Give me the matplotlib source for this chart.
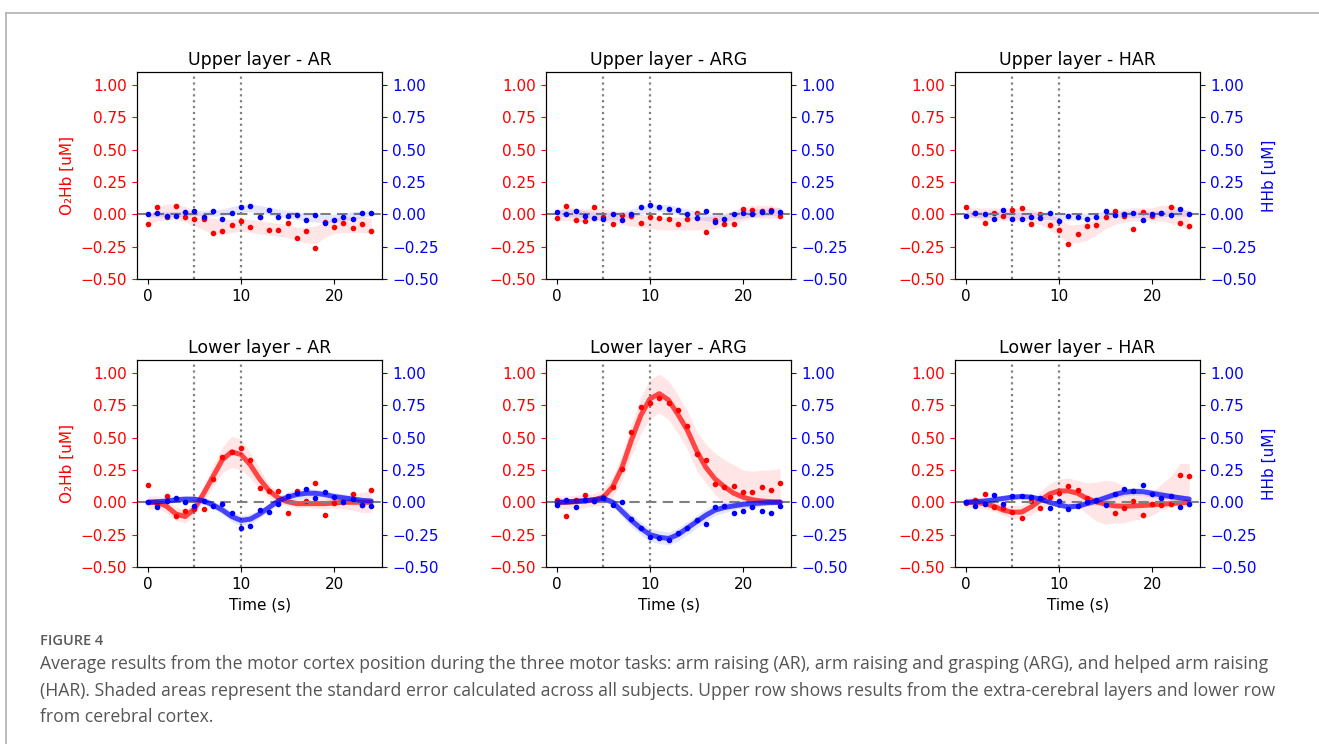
import matplotlib
matplotlib.use("Agg")
import matplotlib.pyplot as plt
from matplotlib.lines import Line2D
import numpy as np

t = list(range(25))

# ---------------- Upper layer (extra-cerebral) ----------------
up_ar_o2_dots = [-0.077, 0.057, -0.02, 0.064, -0.02, -0.039, -0.034, -0.142, -0.131, -0.08, -0.049, -0.10, -0.02,
                 -0.119, -0.124, -0.07, -0.186, -0.131, -0.26, -0.057, -0.095, -0.067, -0.103, -0.072, -0.126]
up_ar_o2_mid = [-0.05, 0.0, 0.02, 0.02, 0.0, -0.03, -0.06, -0.09, -0.1, -0.09, -0.08, -0.09, -0.1, -0.11, -0.12,
                -0.13, -0.15, -0.16, -0.16, -0.12, -0.09, -0.08, -0.08, -0.08, -0.09]
up_ar_o2_se = [0.03, 0.05, 0.06, 0.06, 0.06, 0.06, 0.06, 0.06, 0.06, 0.05, 0.05, 0.05, 0.05, 0.05, 0.05, 0.05,
               0.05, 0.06, 0.07, 0.06, 0.06, 0.06, 0.06, 0.06, 0.06]
up_ar_hhb_dots = [0, 0.013, -0.01, -0.015, 0.015, 0.023, -0.018, 0.028, -0.036, 0.008, 0.057, 0.067, -0.018,
                  0.031, -0.018, -0.01, -0.008, -0.046, -0.008, -0.067, -0.041, -0.018, -0.036, 0.008, 0.013]
up_ar_hhb_mid = [0, 0, 0, 0, 0.005, 0.01, 0.01, 0.01, 0.015, 0.03, 0.045, 0.05, 0.04, 0.025, 0.01, 0, -0.01,
                 -0.02, -0.03, -0.035, -0.03, -0.02, -0.01, 0, 0.01]
up_ar_hhb_se = [0.015, 0.02, 0.02, 0.02, 0.02, 0.02, 0.02, 0.025, 0.025, 0.03, 0.03, 0.03, 0.03, 0.03, 0.03,
                0.03, 0.03, 0.03, 0.03, 0.03, 0.03, 0.03, 0.03, 0.025, 0.02]

up_arg_o2_dots = [-0.031, 0.067, -0.041, -0.052, 0.057, -0.018, -0.077, -0.008, -0.015, -0.07, -0.018, -0.028,
                  -0.039, -0.075, -0.036, 0.008, -0.134, -0.046, -0.072, -0.075, 0.039, 0.031, 0.028, 0.034, -0.01]
up_arg_o2_mid = [-0.01, 0.0, 0.0, -0.01, 0.0, -0.01, -0.02, -0.03, -0.04, -0.05, -0.06, -0.07, -0.07, -0.07,
                 -0.07, -0.07, -0.07, -0.06, -0.04, -0.02, 0.0, 0.02, 0.02, 0.02, 0.01]
up_arg_o2_se = [0.04, 0.05, 0.05, 0.05, 0.05, 0.05, 0.05, 0.05, 0.05, 0.05, 0.05, 0.05, 0.05, 0.05, 0.05, 0.05,
                0.05, 0.05, 0.05, 0.05, 0.05, 0.05, 0.05, 0.05, 0.04]
up_arg_hhb_dots = [0.018, 0, 0.028, -0.013, -0.031, -0.039, 0, -0.046, 0.005, 0.054, 0.07, 0.059, 0.041, 0.036,
                   0, -0.031, 0.028, -0.062, -0.039, 0.005, 0.008, 0, 0.021, 0.026, 0.015]
up_arg_hhb_mid = [0.01, 0.01, 0.01, 0, -0.01, -0.015, -0.015, -0.01, 0.01, 0.03, 0.05, 0.05, 0.045, 0.03, 0.01,
                  -0.01, -0.02, -0.03, -0.03, -0.01, 0, 0.01, 0.015, 0.02, 0.02]
up_arg_hhb_se = [0.03] * 25

up_har_o2_dots = [0.057, 0.01, -0.067, 0.008, -0.01, 0.031, 0.046, -0.072, 0.005, -0.08, -0.124, -0.227, -0.155,
                  -0.09, -0.085, -0.02, 0.023, -0.013, -0.111, 0.015, -0.01, 0.013, 0.057, -0.07, -0.09]
up_har_o2_mid = [0.02, 0.01, 0.0, 0.0, 0.0, 0.0, 0.0, -0.01, -0.03, -0.06, -0.1, -0.15, -0.15, -0.13, -0.1, -0.06,
                 -0.03, -0.01, 0.0, 0.0, 0.0, 0.01, 0.0, -0.02, -0.05]
up_har_o2_se = [0.03, 0.04, 0.05, 0.05, 0.05, 0.05, 0.05, 0.05, 0.05, 0.06, 0.07, 0.07, 0.07, 0.07, 0.06, 0.05,
                0.05, 0.05, 0.05, 0.05, 0.05, 0.06, 0.07, 0.07, 0.07]
up_har_hhb_dots = [-0.015, 0.013, 0.003, -0.034, 0.034, -0.036, -0.034, -0.018, -0.026, 0.013, -0.052, -0.01,
                   -0.023, -0.034, -0.02, 0.028, -0.008, 0, 0.01, -0.046, 0, 0.008, -0.005, 0.041, 0.003]
up_har_hhb_mid = [0, 0, 0, 0, 0, -0.005, -0.01, -0.01, -0.01, -0.015, -0.02, -0.02, -0.02, -0.015, -0.01, 0, 0, 0,
                  0, 0, 0, 0.005, 0.01, 0.01, 0.01]
up_har_hhb_se = [0.025] * 25

# ---------------- Lower layer (cerebral cortex) ----------------
lo_ar_o2_dots = [0.131, -0.01, 0.046, -0.108, -0.07, -0.05, -0.054, 0.18, 0.35, 0.39, 0.42, 0.33, 0.11, 0.085,
                 0.085, -0.08, 0.085, 0.008, 0.147, -0.098, -0.008, 0.0, 0.067, -0.018, 0.095]
lo_ar_o2_fit = [0, 0, -0.03, -0.09, -0.11, -0.05, 0.07, 0.2, 0.33, 0.39, 0.37, 0.29, 0.18, 0.09, 0.035, 0.005,
                -0.01, -0.01, -0.01, -0.01, -0.005, 0, 0, 0, 0]
lo_ar_o2_mid = lo_ar_o2_fit
lo_ar_o2_se = [0.05, 0.05, 0.05, 0.05, 0.05, 0.05, 0.06, 0.08, 0.1, 0.12, 0.12, 0.1, 0.08, 0.05, 0.04, 0.03, 0.03,
               0.03, 0.04, 0.04, 0.04, 0.05, 0.06, 0.08, 0.08]
lo_ar_hhb_dots = [0, -0.04, 0.008, 0.03, 0, -0.03, 0.01, -0.028, -0.01, -0.085, -0.2, -0.186, -0.059, -0.077,
                  -0.01, 0.05, 0.07, 0.105, 0.03, 0.08, 0.039, 0, 0.026, -0.02, -0.028]
lo_ar_hhb_fit = [0, 0.005, 0.01, 0.02, 0.025, 0.025, 0.01, -0.02, -0.06, -0.11, -0.14, -0.13, -0.09, -0.04, 0.01,
                 0.04, 0.06, 0.07, 0.07, 0.06, 0.045, 0.035, 0.025, 0.015, 0.01]
lo_ar_hhb_mid = lo_ar_hhb_fit
lo_ar_hhb_se = [0.02, 0.02, 0.02, 0.02, 0.02, 0.02, 0.03, 0.03, 0.03, 0.04, 0.04, 0.04, 0.03, 0.03, 0.03, 0.04,
                0.04, 0.04, 0.03, 0.03, 0.03, 0.03, 0.02, 0.02, 0.02]

lo_arg_o2_dots = [0.015, -0.103, 0.02, 0.06, 0.01, 0.04, 0.12, 0.26, 0.54, 0.74, 0.77, 0.81, 0.77, 0.71, 0.59,
                  0.37, 0.33, 0.144, 0.12, 0.126, 0.082, 0.082, 0.116, 0.098, 0.15]
lo_arg_o2_fit = [0, 0, 0.005, 0.01, 0.02, 0.04, 0.12, 0.27, 0.48, 0.67, 0.8, 0.84, 0.79, 0.68, 0.56, 0.4, 0.27,
                 0.18, 0.12, 0.07, 0.04, 0.02, 0.01, 0.005, 0.003]
lo_arg_o2_mid = [0, 0, 0.005, 0.01, 0.02, 0.04, 0.12, 0.27, 0.48, 0.67, 0.8, 0.84, 0.79, 0.68, 0.56, 0.4, 0.3,
                 0.22, 0.16, 0.13, 0.1, 0.1, 0.11, 0.12, 0.13]
lo_arg_o2_se = [0.05, 0.05, 0.05, 0.05, 0.05, 0.06, 0.08, 0.1, 0.12, 0.14, 0.15, 0.15, 0.15, 0.15, 0.15, 0.15,
                0.15, 0.16, 0.17, 0.16, 0.15, 0.14, 0.14, 0.13, 0.13]
lo_arg_hhb_dots = [-0.018, 0.018, -0.039, 0.02, 0.013, 0.033, -0.018, 0, -0.13, -0.2, -0.27, -0.275, -0.29, -0.24,
                   -0.2, -0.14, -0.17, -0.04, -0.026, -0.08, -0.067, -0.034, -0.064, -0.08, -0.03]
lo_arg_hhb_fit = [0, 0.003, 0.008, 0.013, 0.02, 0.03, 0.0, -0.07, -0.14, -0.2, -0.25, -0.27, -0.28, -0.25, -0.2,
                  -0.15, -0.1, -0.06, -0.04, -0.028, -0.015, -0.01, -0.005, -0.002, 0]
lo_arg_hhb_mid = lo_arg_hhb_fit
lo_arg_hhb_se = [0.02, 0.02, 0.02, 0.02, 0.02, 0.02, 0.03, 0.04, 0.05, 0.05, 0.05, 0.05, 0.05, 0.05, 0.05, 0.05,
                 0.05, 0.04, 0.04, 0.03, 0.03, 0.03, 0.02, 0.02, 0.02]

lo_har_o2_dots = [-0.005, 0.02, 0.062, -0.036, -0.041, -0.075, -0.12, 0.013, -0.046, 0.041, 0.07, 0.129, 0.098,
                  0.03, 0.01, -0.01, -0.08, -0.044, 0.013, -0.095, -0.01, -0.02, -0.01, 0.214, 0.2]
lo_har_o2_fit = [0, 0, -0.01, -0.03, -0.06, -0.077, -0.075, -0.036, 0.015, 0.065, 0.088, 0.088, 0.07, 0.03, 0.005,
                 -0.015, -0.028, -0.03, -0.028, -0.024, -0.02, -0.015, -0.01, -0.005, 0]
lo_har_o2_mid = [0, 0, -0.01, -0.03, -0.06, -0.077, -0.075, -0.036, 0.015, 0.065, 0.088, 0.088, 0.07, 0.03, 0.005,
                 0.0, 0.0, -0.02, -0.028, -0.035, -0.01, 0.04, 0.08, 0.14, 0.13]
lo_har_o2_se = [0.04, 0.04, 0.04, 0.04, 0.04, 0.05, 0.05, 0.06, 0.07, 0.08, 0.09, 0.1, 0.1, 0.12, 0.15, 0.17, 0.16,
                0.14, 0.11, 0.09, 0.09, 0.1, 0.12, 0.16, 0.17]
lo_har_hhb_dots = [0, -0.028, -0.015, 0.06, -0.013, 0.05, 0.046, 0.039, 0.036, -0.044, 0.013, -0.05, -0.028, 0.003,
                   0.015, -0.018, 0.064, 0.103, 0.085, 0.137, 0.062, 0.031, 0.046, -0.039, -0.015]
lo_har_hhb_fit = [0, 0.005, 0.01, 0.02, 0.03, 0.04, 0.045, 0.04, 0.025, 0.0, -0.02, -0.035, -0.03, -0.01, 0.01,
                  0.035, 0.06, 0.078, 0.085, 0.082, 0.07, 0.057, 0.045, 0.035, 0.025]
lo_har_hhb_mid = lo_har_hhb_fit
lo_har_hhb_se = [0.02] * 14 + [0.03] * 9 + [0.02] * 2

titles = ["Upper layer - AR", "Upper layer - ARG", "Upper layer - HAR",
          "Lower layer - AR", "Lower layer - ARG", "Lower layer - HAR"]
y_ticks = [-0.50, -0.25, 0.00, 0.25, 0.50, 0.75, 1.00]
x_ticks = [0, 10, 20]
task_onset = 5
task_offset = 10

caption_head = "FIGURE 4"
caption_lines = [
    "Average results from the motor cortex position during the three motor tasks: arm raising (AR), arm raising and grasping (ARG), and helped arm raising",
    "(HAR). Shaded areas represent the standard error calculated across all subjects. Upper row shows results from the extra-cerebral layers and lower row",
    "from cerebral cortex.",
]

panels = [
    dict(o2=up_ar_o2_dots, o2m=up_ar_o2_mid, o2s=up_ar_o2_se, o2f=None,
         hb=up_ar_hhb_dots, hbm=up_ar_hhb_mid, hbs=up_ar_hhb_se, hbf=None),
    dict(o2=up_arg_o2_dots, o2m=up_arg_o2_mid, o2s=up_arg_o2_se, o2f=None,
         hb=up_arg_hhb_dots, hbm=up_arg_hhb_mid, hbs=up_arg_hhb_se, hbf=None),
    dict(o2=up_har_o2_dots, o2m=up_har_o2_mid, o2s=up_har_o2_se, o2f=None,
         hb=up_har_hhb_dots, hbm=up_har_hhb_mid, hbs=up_har_hhb_se, hbf=None),
    dict(o2=lo_ar_o2_dots, o2m=lo_ar_o2_mid, o2s=lo_ar_o2_se, o2f=lo_ar_o2_fit,
         hb=lo_ar_hhb_dots, hbm=lo_ar_hhb_mid, hbs=lo_ar_hhb_se, hbf=lo_ar_hhb_fit),
    dict(o2=lo_arg_o2_dots, o2m=lo_arg_o2_mid, o2s=lo_arg_o2_se, o2f=lo_arg_o2_fit,
         hb=lo_arg_hhb_dots, hbm=lo_arg_hhb_mid, hbs=lo_arg_hhb_se, hbf=lo_arg_hhb_fit),
    dict(o2=lo_har_o2_dots, o2m=lo_har_o2_mid, o2s=lo_har_o2_se, o2f=lo_har_o2_fit,
         hb=lo_har_hhb_dots, hbm=lo_har_hhb_mid, hbs=lo_har_hhb_se, hbf=lo_har_hhb_fit),
]

W, H = 1319, 744
fig = plt.figure(figsize=(W / 100, H / 100), dpi=100)
fig.patch.set_facecolor("white")

col_left_px = [136.8, 545.8, 954.8]
ax_w_px = 245.6
row_top_px = [72, 360]
ax_h_px = 207

RED = "#ff0000"
BLUE = "#0000ff"
TICK_FS = 11

for i, p in enumerate(panels):
    r, c = divmod(i, 3)
    left = col_left_px[c] / W
    bottom = 1 - (row_top_px[r] + ax_h_px) / H
    ax = fig.add_axes([left, bottom, ax_w_px / W, ax_h_px / H])
    ax2 = ax.twinx()

    tt = np.array(t)
    o2m = np.array(p["o2m"]); o2s = np.array(p["o2s"])
    hbm = np.array(p["hbm"]); hbs = np.array(p["hbs"])

    ax.fill_between(tt, o2m - o2s, o2m + o2s, color=RED, alpha=0.1, lw=0)
    ax.axvline(task_onset, color="gray", ls=":", lw=1.6, zorder=1)
    ax.axvline(task_offset, color="gray", ls=":", lw=1.6, zorder=1)
    if p["o2f"] is not None:
        ax.plot(tt, p["o2f"], color=RED, alpha=0.7, lw=3.6, zorder=3, solid_capstyle="round")
    ax.plot(tt, p["o2"], "o", color=RED, ms=3, zorder=4)
    ax.axhline(0, color="gray", ls=(0, (5, 3)), lw=1.5, zorder=5)

    ax2.fill_between(tt, hbm - hbs, hbm + hbs, color=BLUE, alpha=0.1, lw=0)
    if p["hbf"] is not None:
        ax2.plot(tt, p["hbf"], color=BLUE, alpha=0.7, lw=3.6, zorder=3, solid_capstyle="round")
    ax2.plot(tt, p["hb"], "o", color=BLUE, ms=3, zorder=4)

    for a in (ax, ax2):
        a.set_ylim(-0.5, 1.1)
        a.set_yticks(y_ticks)
    ax.set_xlim(-1.2, 25.2)
    ax.set_xticks(x_ticks)
    ax.tick_params(axis="x", labelsize=TICK_FS, colors="black")
    ax.tick_params(axis="y", labelsize=TICK_FS, colors=RED)
    ax2.tick_params(axis="y", labelsize=TICK_FS, colors=BLUE)
    ax.set_yticklabels([f"{v:.2f}".replace("-", "\u2212") for v in y_ticks])
    ax2.set_yticklabels([f"{v:.2f}".replace("-", "\u2212") for v in y_ticks])
    ax.set_title(titles[i], fontsize=12.5, pad=5)
    if c == 0:
        ax.set_ylabel("O\u2082Hb [uM]", color=RED, fontsize=TICK_FS)
    if c == 2:
        ax2.set_ylabel("HHb [uM]", color=BLUE, fontsize=TICK_FS)
    if r == 1:
        ax.set_xlabel("Time (s)", fontsize=TICK_FS)

# page frame lines
fig.add_artist(Line2D([6 / W, 1], [1 - 13 / H, 1 - 13 / H], color="#b0b0b0", lw=1.2))
fig.add_artist(Line2D([6 / W, 6 / W], [0, 1 - 13 / H], color="#b0b0b0", lw=1.2))

# caption
fig.text(40 / W, 1 - 641 / H, caption_head, fontsize=10.5, color="#5a5a5a", family="Open Sans",
         weight="semibold", va="center", ha="left")
for k, line in enumerate(caption_lines):
    fig.text(40 / W, 1 - (664 + 26.5 * k) / H, line, fontsize=12.7, color="#555555", family="Open Sans",
             va="center", ha="left")

fig.savefig("out.png", dpi=100)
